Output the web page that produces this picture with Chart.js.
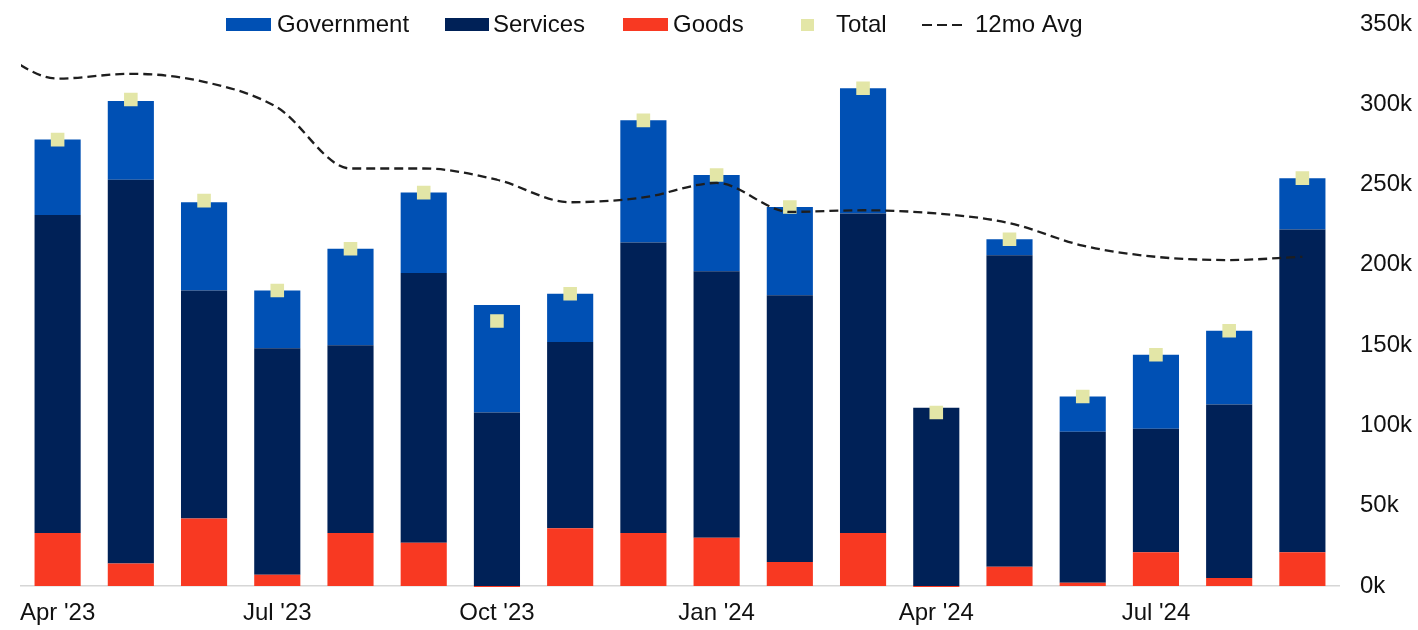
<!DOCTYPE html>
<html>
<head>
<meta charset="utf-8">
<script src="https://cdn.jsdelivr.net/npm/chart.js@4/dist/chart.umd.min.js"></script>
<style>
  html, body { margin: 0; padding: 0; background: #ffffff; }
  #wrap { width: 1418px; height: 630px; position: relative; }
</style>
</head>
<body>
<div id="wrap"><canvas id="c" width="1418" height="630"></canvas></div>
<script>
// ---- data (thousands) ----
const months = ["Apr '23","May '23","Jun '23","Jul '23","Aug '23","Sep '23","Oct '23","Nov '23","Dec '23",
                "Jan '24","Feb '24","Mar '24","Apr '24","May '24","Jun '24","Jul '24","Aug '24","Sep '24"];
const tickLabels = ["Apr '23","Jul '23","Oct '23","Jan '24","Apr '24","Jul '24"];
const goods      = [33, 14, 42,  7, 33, 27, -10, 36, 33, 30, 15, 33,  -3,  12,  2, 21,   5,  21];
const services   = [198,239,142,141,117,168, 108,116,181,166,166,199, 111, 194, 94, 77, 108, 201];
const government = [47, 49, 55, 36, 60, 50,  67, 30, 76, 60, 55, 78,   0,  10, 22, 46,  46,  32];
const total      = [278,303,240,184,210,245, 165,182,290,256,236,310, 108, 216,118,144, 159, 254];
// 12-month average, starting one month before the first bar (Mar '23)
const avgMonths  = ["Mar '23"].concat(months);
const avg12      = [338, 316, 319, 314, 298, 260, 260, 253, 239, 242, 251, 233, 234, 232, 226, 212, 205, 203, 205];
const yTickStep  = 50;
const yMax       = 350;

const COL = {
  gov: '#0050b4',
  svc: '#002157',
  goods: '#f83922',
  total: '#e3e6a7',
  avg: '#1e1e1e',
  text: '#111111',
  axis: '#d6d6d6'
};
const FONT = '"Liberation Sans", Arial, sans-serif';

// x position of each average point on the month index scale (Mar '23 = -1)
const avgPoints = avg12.map((v, i) => ({ x: i - 1, y: v }));

const refLegend = {
  id: 'refLegend',
  afterDraw(chart) {
    const ctx = chart.ctx;
    const ds = chart.data.datasets;
    const byLabel = l => ds.find(d => d.label === l);
    ctx.save();
    ctx.font = '24px ' + FONT;
    ctx.textBaseline = 'alphabetic';
    const baseY = 32;
    const items = [
      { label: 'Government', kind: 'box', x: 226, w: 45, tx: 277 },
      { label: 'Services',   kind: 'box', x: 445, w: 44, tx: 493 },
      { label: 'Goods',      kind: 'box', x: 623, w: 45, tx: 673 },
      { label: 'Total',      kind: 'pt',  x: 801, w: 13, tx: 836 },
      { label: '12mo Avg',   kind: 'dash',x: 922, w: 40, tx: 975 }
    ];
    items.forEach(it => {
      const d = byLabel(it.label);
      if (it.kind === 'box') {
        ctx.fillStyle = d.backgroundColor;
        ctx.fillRect(it.x, 18, it.w, 13);
      } else if (it.kind === 'pt') {
        ctx.fillStyle = d.pointBackgroundColor;
        ctx.fillRect(it.x, 19, it.w, 12);
      } else {
        ctx.strokeStyle = d.borderColor;
        ctx.lineWidth = 2.2;
        ctx.setLineDash([10, 5]);
        ctx.beginPath();
        ctx.moveTo(it.x, 25);
        ctx.lineTo(it.x + it.w, 25);
        ctx.stroke();
        ctx.setLineDash([]);
      }
      ctx.fillStyle = COL.text;
      ctx.fillText(it.label, it.tx, baseY);
    });
    ctx.restore();
  }
};

const barCommon = {
  type: 'bar', borderWidth: 0, barPercentage: 0.63, categoryPercentage: 1,
  grouped: false, stack: 'bars', order: 3,
  clip: { left: 2, right: 2, top: 2, bottom: 1 }
};

new Chart(document.getElementById('c'), {
  data: {
    labels: months,
    datasets: [
      Object.assign({ label: 'Goods', data: goods, backgroundColor: COL.goods }, barCommon),
      Object.assign({ label: 'Services', data: services, backgroundColor: COL.svc }, barCommon),
      Object.assign({ label: 'Government', data: government, backgroundColor: COL.gov }, barCommon),
      { type: 'line', label: 'Total', data: total, showLine: false, stack: 'total',
        pointStyle: 'rect', pointRadius: 9.6, pointHoverRadius: 9.6, pointBorderWidth: 0,
        pointBackgroundColor: COL.total, backgroundColor: COL.total, borderColor: COL.total, order: 1 },
      { type: 'line', label: '12mo Avg', data: avgPoints, xAxisID: 'xAvg', stack: 'avg',
        borderColor: COL.avg, borderWidth: 2.3, borderDash: [9, 5],
        cubicInterpolationMode: 'monotone', tension: 0.4,
        pointRadius: 0, fill: false, order: 0 }
    ]
  },
  options: {
    responsive: false,
    animation: false,
    events: [],
    layout: { padding: { left: 21, right: 6, top: 24, bottom: 0 } },
    plugins: { legend: { display: false }, tooltip: { enabled: false } },
    scales: {
      x: {
        type: 'category',
        stacked: true,
        offset: true,
        grid: { display: false, drawTicks: false },
        border: { display: true, color: COL.axis, width: 1.5 },
        ticks: {
          autoSkip: false, maxRotation: 0, padding: 12.6,
          color: COL.text, font: { family: FONT, size: 24 },
          callback: function (v) { const l = this.getLabelForValue(v); return tickLabels.includes(l) ? l : ''; }
        },
        afterFit: s => { s.height = 44; }
      },
      xAvg: {
        type: 'linear', display: false, min: -0.5, max: months.length - 0.5, offset: false
      },
      y: {
        position: 'right',
        stacked: true,
        min: 0, max: yMax,
        grid: { display: false, drawTicks: false },
        border: { display: false },
        ticks: {
          stepSize: yTickStep, padding: 21,
          color: COL.text, font: { family: FONT, size: 24 },
          callback: v => v + 'k'
        },
        afterFit: s => { s.width = 73; s.paddingTop = 0; s.paddingBottom = 0; }
      }
    }
  },
  plugins: [refLegend]
});
</script>
</body>
</html>
